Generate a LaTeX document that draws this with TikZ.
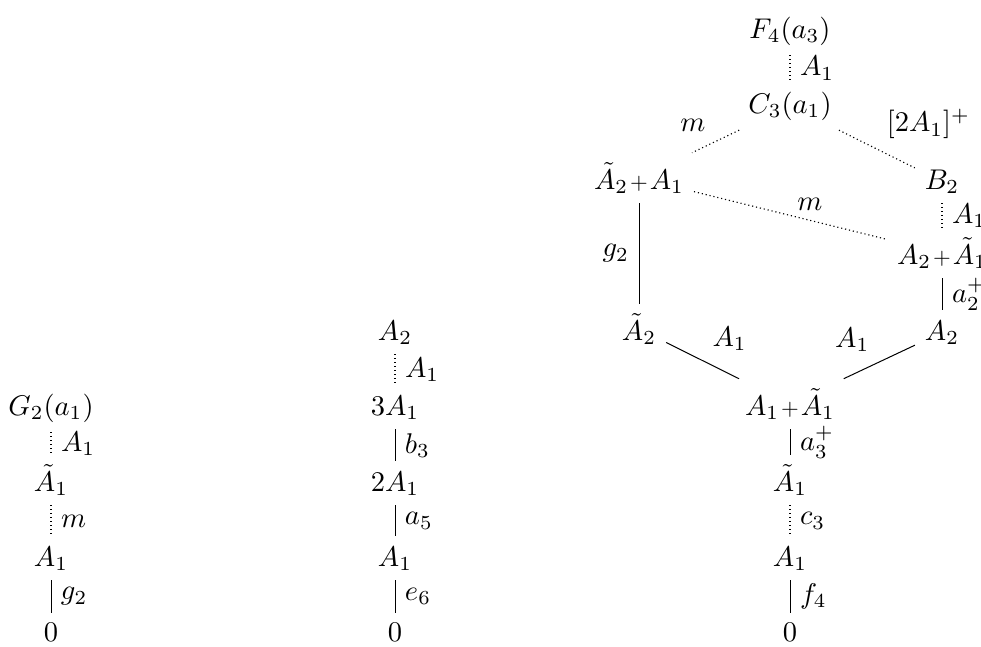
\documentclass[tikz,border=0pt]{standalone}
\usepackage{graphicx}
\newcommand{\pl}{\mkern1.2mu\mathord{\scalebox{0.8}{$+$}}\mkern1.2mu}
\tikzset{
  n/.style={anchor=base, inner sep=3.33pt},
  lab/.style={inner sep=3.33pt},
  sl/.style={line width=0.35pt},
  dl/.style={line width=0.4pt, densely dotted},
}
\begin{document}
\begin{tikzpicture}[x=0.3509pt, y=-0.3509pt]
\useasboundingbox (0,0) rectangle (981,646);
% left chain
\node[n] (g2a1) at (51,415) {$G_2(a_1)$};
\node[n] (l1) at (51,491) {$\tilde A_1$};
\node[n] (l2) at (51,566) {$A_1$};
\node[n] (l3) at (51,641) {$0$};
\draw[dl] (g2a1) -- node[lab,right] {$A_1$} (l1);
\draw[dl] (l1) -- node[lab,right] {$m$} (l2);
\draw[sl] (l2) -- node[lab,right] {$g_2$} (l3);
% middle chain
\node[n] (m0) at (395,340) {$A_2$};
\node[n] (m1) at (395,415) {$3A_1$};
\node[n] (m2) at (395,491) {$2A_1$};
\node[n] (m3) at (395,566) {$A_1$};
\node[n] (m4) at (395,641) {$0$};
\draw[dl] (m0) -- node[lab,right] {$A_1$} (m1);
\draw[sl] (m1) -- node[lab,right] {$b_3$} (m2);
\draw[sl] (m2) -- node[lab,right] {$a_5$} (m3);
\draw[sl] (m3) -- node[lab,right] {$e_6$} (m4);
% right diagram
\node[n] (r0) at (790,38) {$F_4(a_3)$};
\node[n] (r1) at (790,113) {$C_3(a_1)$};
\node[n] (hl2) at (639,189) {$\tilde A_2\pl A_1$};
\node[n] (hr2) at (942,189) {$B_2$};
\node[n] (hr3) at (942,264) {$A_2\pl\tilde A_1$};
\node[n] (hl4) at (639,340) {$\tilde A_2$};
\node[n] (hr4) at (942,340) {$A_2$};
\node[n] (r5) at (790,415) {$A_1\pl\tilde A_1$};
\node[n] (r6) at (790,491) {$\tilde A_1$};
\node[n] (r7) at (790,566) {$A_1$};
\node[n] (r8) at (790,641) {$0$};
\draw[dl] (r0) -- node[lab,right] {$A_1$} (r1);
\draw[dl] (r1) -- node[lab,above left] {$m$} (hl2);
\draw[dl] (r1) -- node[lab,above right] {$[2A_1]^+$} (hr2);
\draw[dl] (hl2) -- node[lab,above,pos=0.6] {$m$} (hr3);
\draw[dl] (hr2) -- node[lab,right] {$A_1$} (hr3);
\draw[sl] (hr3) -- node[lab,right] {$a_2^+$} (hr4);
\draw[sl] (hl2) -- node[lab,left] {$g_2$} (hl4);
\draw[sl] (hl4) -- node[lab,above right] {$A_1$} (r5);
\draw[sl] (hr4) -- node[lab,above left] {$A_1$} (r5);
\draw[sl] (r5) -- node[lab,right] {$a_3^+$} (r6);
\draw[dl] (r6) -- node[lab,right] {$c_3$} (r7);
\draw[sl] (r7) -- node[lab,right] {$f_4$} (r8);
\end{tikzpicture}
\end{document}
